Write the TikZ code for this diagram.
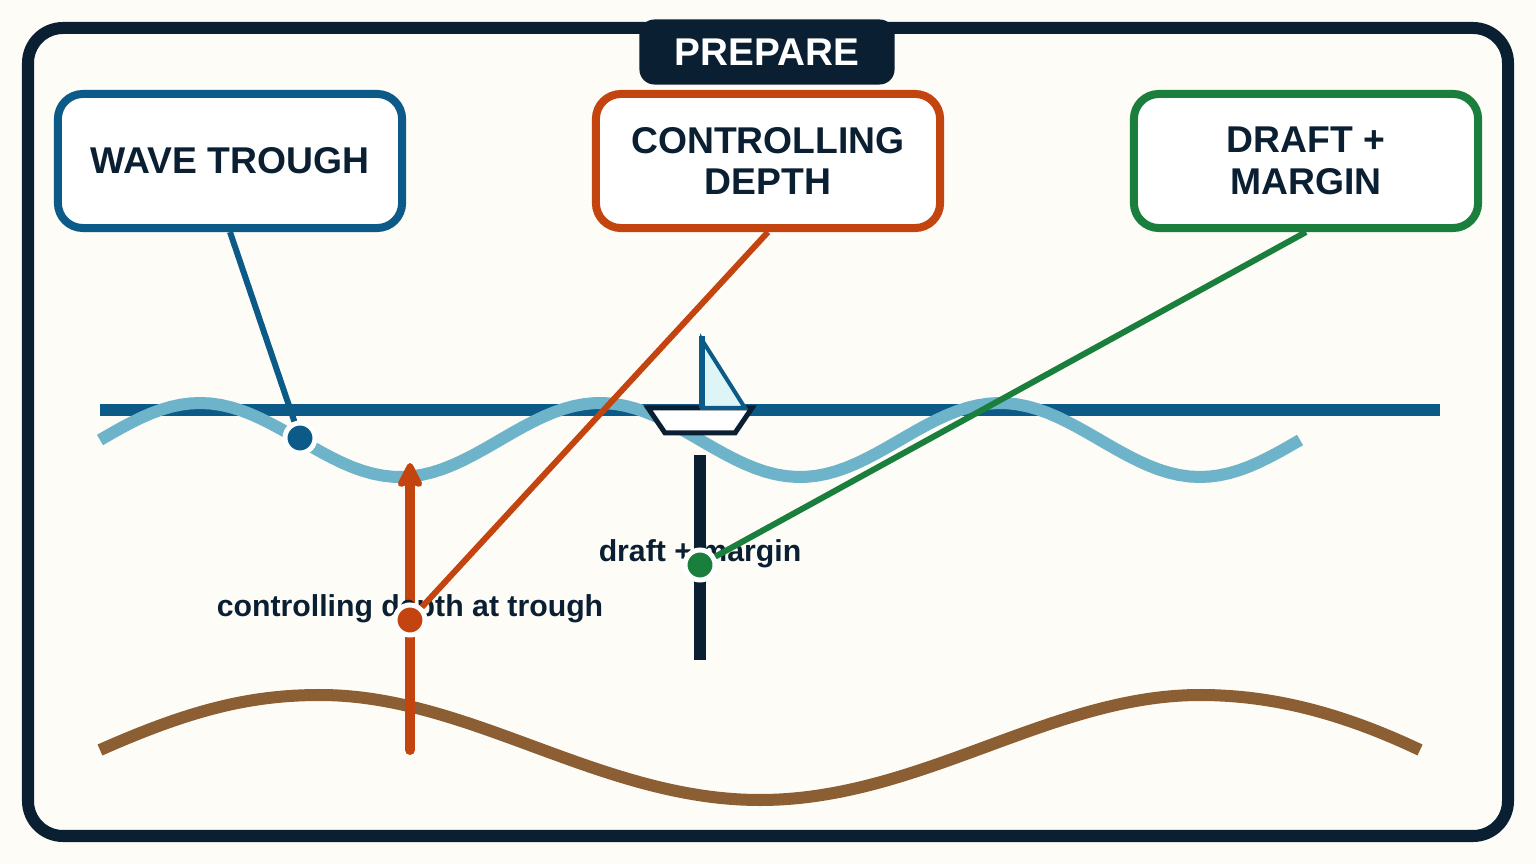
\documentclass[tikz,border=0pt]{standalone}
\usepackage{fontspec}
\setmainfont{Liberation Sans}
\usetikzlibrary{arrows.meta,positioning}
\definecolor{ink}{HTML}{0B1F33}
\definecolor{paper}{HTML}{FDFCF7}
\definecolor{deepBlue}{HTML}{0B5A87}
\definecolor{waveBlue}{HTML}{6DB3C9}
\definecolor{rust}{HTML}{C4440F}
\definecolor{leaf}{HTML}{1A7F3C}
\definecolor{mud}{HTML}{8B5E34}
\definecolor{sail}{HTML}{DDF5F7}
\newcommand{\newBox}[4]{\node[callout,draw=#3](#1) at #4 {#2};}
\newcommand{\newDot}[3]{\node[dot,fill=#3](#1) at #2 {};}

\begin{document}
\begin{tikzpicture}[
    % pixel grid of the reference
    x=0.01cm,y=-0.01cm,
    callout/.style={rounded corners=0.25cm,line width=0.08cm,fill=white,
      minimum width=3.44cm,minimum height=1.34cm,align=center,
      font=\fontsize{10.6}{11.9}\selectfont\bfseries,text=ink},
    dot/.style={circle,draw=white,line width=0.05cm,inner sep=0pt,minimum size=0.3cm},
    tag/.style={font=\fontsize{8.6}{10}\selectfont\bfseries,text=ink},
    leader/.style={line width=0.06cm}
    ]
    \useasboundingbox (0,0) rectangle (1536,864);
    \fill[paper] (0,0) rectangle (1536,864);
    \draw[ink,line width=0.12cm,rounded corners=0.35cm] (28,28) rectangle (1508,836);
    \node[fill=ink,rounded corners=0.15cm,minimum width=2.55cm,minimum height=0.65cm,
      text=white,font=\fontsize{11}{13}\selectfont\bfseries] (title) at (767,52) {PREPARE};

    \newBox{trough}{WAVE TROUGH}{deepBlue}{(230,161)}
    \newBox{depth}{CONTROLLING\\DEPTH}{rust}{(768,161)}
    \newBox{draft}{DRAFT +\\MARGIN}{leaf}{(1306,161)}

    % water, waves and seabed
    \draw[deepBlue,line width=0.12cm] (100,410) -- (1440,410);
    \draw[waveBlue,line width=0.12cm,domain=100:1300,samples=120]
      plot (\x,{440-37*cos(0.9*(\x-200))});
    \draw[mud,line width=0.12cm] (100,750) .. controls (190,710) and (250,695) .. (320,695)
      .. controls (470,695) and (600,800) .. (760,800)
      .. controls (920,800) and (1050,695) .. (1200,695)
      .. controls (1270,695) and (1340,712) .. (1420,750);

    % boat
    \draw[ink,line width=0.05cm,fill=white] (648,408) -- (752,408) -- (735,433) -- (665,433) -- cycle;
    \draw[deepBlue,line width=0.04cm,fill=sail] (702,340) -- (745,408) -- (702,408) -- cycle;
    \draw[deepBlue,line width=0.06cm] (702,336) -- (702,408);

    % markers
    \draw[ink,line width=0.12cm] (700,455) -- (700,660);
    \draw[rust,line width=0.1cm,line cap=round,
      -{Stealth[length=0.3cm,width=0.3cm,inset=0.06cm,round]}] (410,750) -- (410,463);
    \node[tag] (depthTag) at (410,609) {controlling depth at trough};
    \node[tag] (draftTag) at (700,554) {draft + margin};
    \newDot{troughDot}{(300,438)}{deepBlue}
    \newDot{depthDot}{(410,620)}{rust}
    \newDot{draftDot}{(700,565)}{leaf}

    \draw[deepBlue,leader] (trough.south) -- (troughDot);
    \draw[rust,leader] (depth.south) -- (depthDot);
    \draw[leaf,leader] (draft.south) -- (draftDot);
\end{tikzpicture}
\end{document}
